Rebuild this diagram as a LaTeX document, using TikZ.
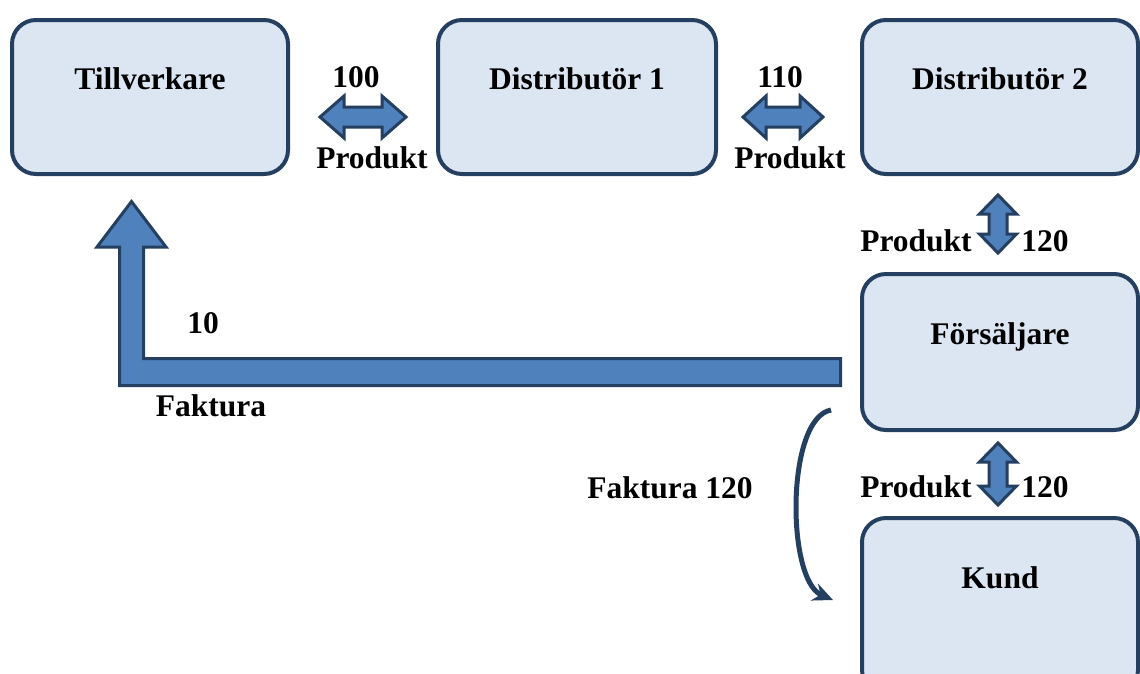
\documentclass[tikz,border=0pt]{standalone}
\usepackage{fontspec}
\setmainfont{Liberation Serif}
\usetikzlibrary{calc,arrows.meta}
\definecolor{boxfill}{HTML}{DCE6F2}
\definecolor{edgecol}{HTML}{243F60}
\definecolor{arrfill}{HTML}{4F81BD}
\tikzset{
  box/.style={draw=edgecol, fill=boxfill, line width=4pt, rounded corners=24pt,
    minimum width=276pt, minimum height=154pt, inner sep=0pt,
    text height=20pt, text depth=36pt,
    font=\fontsize{31.5}{36}\selectfont\bfseries},
  lbl/.style={anchor=base, inner sep=0pt, font=\fontsize{31.5}{36}\selectfont\bfseries},
  blockarrow/.style={draw=edgecol, fill=arrfill, line width=3pt, line join=miter},
  curvearrow/.style={draw=edgecol, line width=5pt, -{Stealth[length=20pt,width=18pt]}},
  pics/dblarrow/.style n args={4}{code={
    \filldraw[blockarrow] (-#1,0) -- (-#1+#2,#3) -- (-#1+#2,#4) -- (#1-#2,#4) -- (#1-#2,#3)
      -- (#1,0) -- (#1-#2,-#3) -- (#1-#2,-#4) -- (-#1+#2,-#4) -- (-#1+#2,-#3) -- cycle;
  }}
}
\begin{document}
\begin{tikzpicture}[x=1pt,y=-1pt]
\useasboundingbox (0,0) rectangle (1140,673);
\fill[white] (0,0) rectangle (1140,673);

% boxes
\node[box] (T)  at (150,97)  {Tillverkare};
\node[box, minimum width=278pt] (D1) at (577,97)  {Distributör 1};
\node[box] (D2) at (1000,97) {Distributör 2};
\node[box, minimum height=156pt] (F)  at (1000,352) {Försäljare};
\node[box, minimum height=176pt, text depth=56pt] (K)  at (1000,606) {Kund};

% double block arrows
\pic at ($(T.east)!0.5!(D1.west)+(0,20)$) {dblarrow={43}{24}{21}{10}};
\pic at ($(D1.east)!0.5!(D2.west)+(-6,20)$) {dblarrow={40}{23}{21}{10}};
\pic[rotate=90] at ($(D2.south)!0.5!(F.north)+(-2,0)$) {dblarrow={29}{19}{18.5}{9}};
\pic[rotate=90] at ($(F.south)!0.5!(K.north)+(-2,0)$) {dblarrow={31}{19}{18.5}{9}};

% labels at the double arrows
\node[lbl] (n100) at (356,87) {100};
\node[lbl] (p1) at (372,168) {Produkt};
\node[lbl] (n110) at (780,87) {110};
\node[lbl] (p2) at (790,168) {Produkt};
\node[lbl] (p3) at (916,251) {Produkt};
\node[lbl] (n120a) at (1045,251) {120};
\node[lbl] (p4) at (916,497) {Produkt};
\node[lbl] (n120b) at (1045,497) {120};

% big L-shaped arrow (Faktura 10)
\coordinate (ltail) at (840.5,372);
\coordinate (ltip) at (131.5,201.5);
\filldraw[blockarrow] (ltail |- 0,358.5) -- (143.5,358.5) -- (143.5,247) -- (166,247)
  -- (ltip) -- (97,247) -- (119.5,247) -- (119.5,385.5) -- (ltail |- 0,385.5) -- cycle;
\node[lbl] (n10) at (203,333) {10};
\node[lbl] (fak) at (211,416) {Faktura};

% curved arrow (Faktura 120)
\coordinate (cs) at (831,410);
\coordinate (ce) at (833,600);
\draw[curvearrow] (cs) .. controls (786,418) and (786,580) .. (ce);
\node[lbl] (fak120) at (670,498) {Faktura 120};
\end{tikzpicture}
\end{document}
